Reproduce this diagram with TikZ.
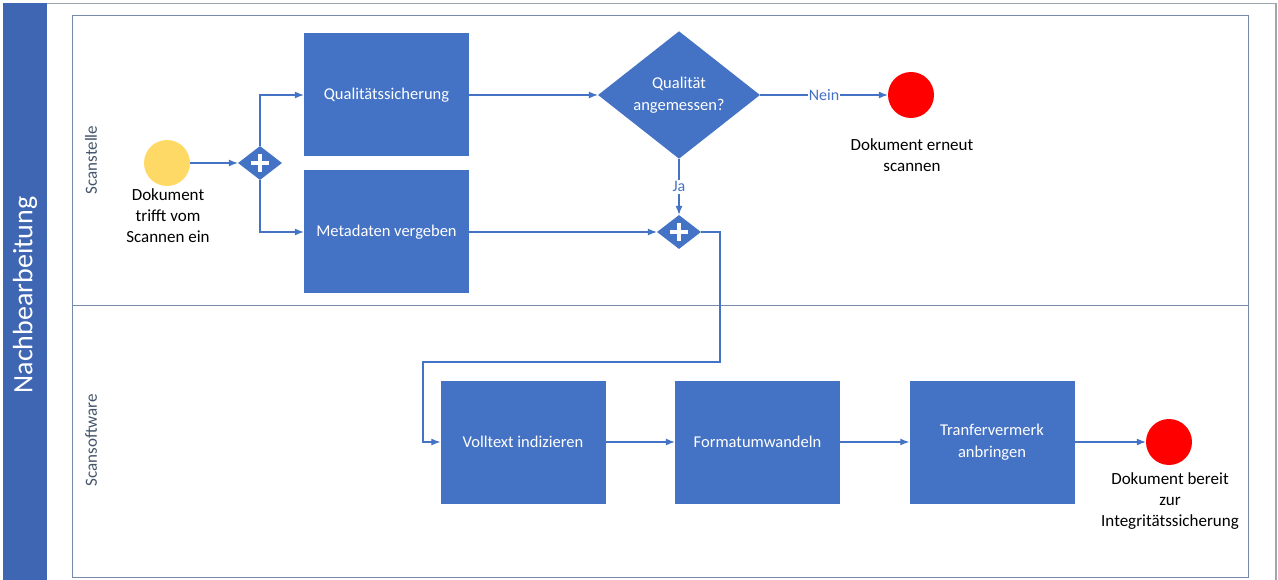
\documentclass[tikz,border=0pt]{standalone}
\usepackage{fontspec}
\setmainfont{Carlito}
\usetikzlibrary{shapes.geometric,arrows.meta}
\definecolor{taskblue}{RGB}{68,114,196}
\definecolor{poolblue}{RGB}{62,102,178}
\definecolor{lanegray}{RGB}{118,138,168}
\definecolor{framegray}{RGB}{160,166,174}
\definecolor{lanetext}{RGB}{68,84,106}
\definecolor{startyellow}{RGB}{255,217,102}
\begin{document}
\begin{tikzpicture}[x=1pt,y=-1pt]
    \tikzstyle{task}=[fill=taskblue,text=white,minimum width=165pt,minimum height=123pt,inner sep=0pt,align=center,font=\fontsize{16.5}{22}\selectfont]
    \tikzstyle{gate}=[shape=diamond,fill=taskblue,minimum width=44pt,minimum height=34pt,inner sep=0pt,
      path picture={\draw[white,line width=3.5pt] ([xshift=-9pt]path picture bounding box.center) -- ([xshift=9pt]path picture bounding box.center);
                    \draw[white,line width=3.5pt] ([yshift=-9pt]path picture bounding box.center) -- ([yshift=9pt]path picture bounding box.center);}]
    \tikzstyle{event}=[shape=circle,minimum size=46pt,inner sep=0pt]
    \tikzstyle{evlabel}=[align=center,font=\fontsize{17}{21}\selectfont]
    \tikzstyle{flow}=[draw=taskblue,line width=1.1pt,-{Latex[length=9pt,width=7pt]}]
    \tikzstyle{lane}=[rotate=90,text=lanetext,font=\fontsize{17}{20}\selectfont]

    \useasboundingbox[fill=white] (0,0) rectangle (1278,580);

    % pool and lanes
    \draw[framegray,line width=1.2pt] (3,3.5) -- (1276,3.5) -- (1276,580);
    \fill[poolblue] (3,3) rectangle (47,580);
    \node[rotate=90,text=white,font=\fontsize{28}{30}\selectfont] (pool) at (25,295) {Nachbearbeitung};
    \draw[lanegray,line width=1pt] (72,16) rectangle (1248,577);
    \draw[lanegray,line width=1pt] (72,306) -- (1248,306);
    \node[lane] (lane1) at (91,160) {Scanstelle};
    \node[lane] (lane2) at (91,440) {Scansoftware};

    % Scanstelle
    \node[event,fill=startyellow] (start) at (167,163) {};
    \node[evlabel] at (168,216) {Dokument\\trifft vom\\Scannen ein};
    \node[gate] (gw1) at (260,163) {};
    \node[task] (qs) at (386.5,95) {Qualitätssicherung};
    \node[task] (meta) at (386.5,232) {Metadaten vergeben};
    \node[shape=diamond,fill=taskblue,text=white,minimum width=162pt,minimum height=122pt,inner sep=0pt,
      align=center,font=\fontsize{16.5}{22}\selectfont] (check) at (679,95) {Qualität\\angemessen?};
    \node[event,fill=red] (stopA) at (911,95) {};
    \node[evlabel] at (912,155) {Dokument erneut\\scannen};
    \node[gate] (gw2) at (679,232) {};

    % Scansoftware
    \node[task] (vt) at (523,442) {Volltext indizieren};
    \node[task] (fmt) at (757.5,442) {Formatumwandeln};
    \node[task] (tv) at (992,442) {Tranfervermerk\\anbringen};
    \node[event,fill=red] (stopB) at (1169,442) {};
    \node[evlabel] at (1170,501) {Dokument bereit\\zur\\Integritätssicherung};

    \coordinate (bendA) at (720,362);
    \coordinate (bendB) at (423,362);

    \draw[flow] (start) -- (gw1);
    \draw[flow] (gw1.north) |- (qs.west);
    \draw[flow] (gw1.south) |- (meta.west);
    \draw[flow] (qs) -- (check);
    \draw[flow] (check) -- node[fill=white,text=taskblue,inner sep=1pt,font=\fontsize{16}{18}\selectfont]{Nein} (stopA);
    \draw[flow] (check) -- node[fill=white,text=taskblue,inner sep=2pt,font=\fontsize{16}{18}\selectfont]{Ja} (gw2);
    \draw[flow] (meta) -- (gw2);
    \draw[flow] (gw2.east) -| (bendA) -- (bendB) |- (vt.west);
    \draw[flow] (vt) -- (fmt);
    \draw[flow] (fmt) -- (tv);
    \draw[flow] (tv) -- (stopB);
  \end{tikzpicture}
\end{document}
